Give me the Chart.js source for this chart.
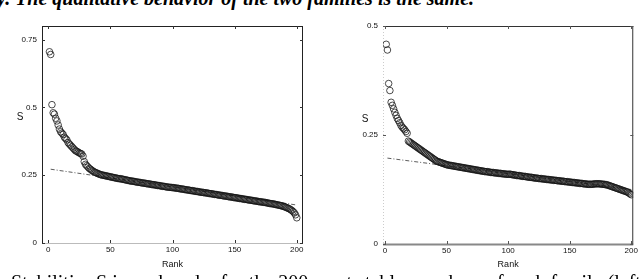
<!DOCTYPE html>
<html>
<head>
<meta charset="utf-8">
<script src="https://cdn.jsdelivr.net/npm/chart.js@4.4.0/dist/chart.umd.min.js"></script>
<style>
  html, body { margin: 0; padding: 0; background: #fff; }
  #page { position: relative; width: 640px; height: 279px; overflow: hidden; background: #fff; }
  .plot { position: absolute; top: 0; }
  .caption { position: absolute; white-space: nowrap; font-family: "Liberation Serif", serif; color: #000; }
  #topText { left: -3px; top: -13px; font-size: 20px; font-weight: bold; font-style: italic; }
  #bottomText { left: -30px; top: 271px; font-size: 20px; }
</style>
</head>
<body>
<div id="page">
  <div id="topText" class="caption">y. The qualitative behavior of the two families is the same.</div>
  <div class="plot" style="left:0px"><canvas id="chartLeft" width="320" height="279"></canvas></div>
  <div class="plot" style="left:320px"><canvas id="chartRight" width="320" height="279"></canvas></div>
  <div id="bottomText" class="caption">re 3: Stabilities S in rank order for the 200 most stable members of each family (left and right).</div>
</div>
<script>
// stability S by rank (1..200), left family
const leftS = [
  0.705, 0.695, 0.51, 0.48, 0.475, 0.46, 0.45, 0.435, 0.42, 0.41,
  0.405, 0.40, 0.39, 0.385, 0.38, 0.37, 0.365, 0.36, 0.355, 0.35,
  0.345, 0.34, 0.338, 0.335, 0.332, 0.33, 0.328, 0.32, 0.30, 0.29,
  0.285, 0.28, 0.275, 0.272, 0.268, 0.265, 0.262, 0.26, 0.258, 0.256,
  0.254, 0.252, 0.251, 0.25, 0.249, 0.248, 0.247, 0.246, 0.245, 0.244,
  0.243, 0.242, 0.241, 0.240, 0.239, 0.238, 0.237, 0.237, 0.236, 0.235,
  0.234, 0.233, 0.232, 0.231, 0.230, 0.229, 0.228, 0.228, 0.227, 0.226,
  0.225, 0.224, 0.224, 0.223, 0.222, 0.221, 0.221, 0.220, 0.219, 0.218,
  0.218, 0.217, 0.216, 0.215, 0.215, 0.214, 0.213, 0.212, 0.212, 0.211,
  0.210, 0.209, 0.209, 0.208, 0.207, 0.206, 0.206, 0.205, 0.205, 0.204,
  0.204, 0.203, 0.202, 0.202, 0.201, 0.200, 0.199, 0.199, 0.198, 0.197,
  0.196, 0.196, 0.195, 0.194, 0.193, 0.193, 0.192, 0.191, 0.190, 0.190,
  0.189, 0.188, 0.187, 0.187, 0.186, 0.185, 0.185, 0.184, 0.183, 0.182,
  0.182, 0.181, 0.180, 0.179, 0.179, 0.178, 0.177, 0.176, 0.176, 0.175,
  0.174, 0.173, 0.173, 0.172, 0.171, 0.170, 0.170, 0.169, 0.168, 0.167,
  0.167, 0.166, 0.165, 0.164, 0.164, 0.163, 0.162, 0.161, 0.161, 0.160,
  0.159, 0.158, 0.158, 0.157, 0.156, 0.155, 0.155, 0.154, 0.153, 0.152,
  0.152, 0.151, 0.150, 0.150, 0.149, 0.148, 0.147, 0.146, 0.145, 0.145,
  0.144, 0.143, 0.142, 0.141, 0.140, 0.139, 0.138, 0.137, 0.135, 0.134,
  0.132, 0.130, 0.128, 0.126, 0.123, 0.120, 0.116, 0.111, 0.104, 0.093
];

// stability S by rank (1..200), right family
const rightS = [
  0.458, 0.445, 0.368, 0.352, 0.325, 0.318, 0.31, 0.302, 0.295, 0.288,
  0.283, 0.278, 0.272, 0.268, 0.265, 0.262, 0.258, 0.254, 0.236, 0.234,
  0.232, 0.230, 0.228, 0.226, 0.224, 0.222, 0.220, 0.218, 0.216, 0.214,
  0.212, 0.210, 0.208, 0.206, 0.204, 0.202, 0.200, 0.198, 0.196, 0.194,
  0.192, 0.190, 0.189, 0.188, 0.187, 0.186, 0.185, 0.184, 0.183, 0.182,
  0.181, 0.181, 0.180, 0.180, 0.179, 0.179, 0.178, 0.178, 0.177, 0.177,
  0.176, 0.176, 0.175, 0.175, 0.174, 0.174, 0.173, 0.173, 0.172, 0.172,
  0.171, 0.171, 0.170, 0.170, 0.169, 0.169, 0.168, 0.168, 0.167, 0.167,
  0.166, 0.166, 0.166, 0.165, 0.165, 0.164, 0.164, 0.164, 0.163, 0.163,
  0.163, 0.162, 0.162, 0.162, 0.161, 0.161, 0.161, 0.160, 0.160, 0.160,
  0.160, 0.160, 0.159, 0.159, 0.158, 0.158, 0.157, 0.157, 0.157, 0.156,
  0.156, 0.155, 0.155, 0.155, 0.154, 0.154, 0.153, 0.153, 0.153, 0.152,
  0.152, 0.151, 0.151, 0.151, 0.150, 0.150, 0.150, 0.149, 0.149, 0.149,
  0.148, 0.148, 0.148, 0.147, 0.147, 0.147, 0.146, 0.146, 0.146, 0.145,
  0.145, 0.145, 0.144, 0.144, 0.144, 0.143, 0.143, 0.143, 0.142, 0.142,
  0.142, 0.141, 0.141, 0.141, 0.140, 0.140, 0.140, 0.139, 0.139, 0.139,
  0.138, 0.138, 0.138, 0.137, 0.137, 0.137, 0.137, 0.137, 0.137, 0.138,
  0.138, 0.138, 0.138, 0.138, 0.138, 0.137, 0.137, 0.137, 0.136, 0.136,
  0.135, 0.134, 0.133, 0.132, 0.131, 0.130, 0.129, 0.128, 0.127, 0.126,
  0.125, 0.124, 0.123, 0.122, 0.121, 0.120, 0.119, 0.117, 0.115, 0.113
];

// dash-dot reference lines (end points)
const leftFit = [{ x: 2, y: 0.272 }, { x: 200, y: 0.14 }];
const rightFit = [{ x: 2, y: 0.197 }, { x: 200, y: 0.125 }];

const rankTicks = [0, 50, 100, 150, 200];
const leftYTicks = [0, 0.25, 0.5, 0.75];
const rightYTicks = [0, 0.25, 0.5];

const tickFont = { family: 'Liberation Sans', size: 8 };

function toPoints(arr) {
  return arr.map((v, i) => ({ x: i + 1, y: v }));
}

// frame, inward ticks and axis titles, MATLAB style
const framePlugin = {
  id: 'frame',
  afterDraw(chart, args, opts) {
    const c = chart.ctx;
    const a = chart.chartArea;
    const xs = chart.scales.x;
    const ys = chart.scales.y;
    c.save();
    const side = (col, w, x1, y1, x2, y2, dash) => {
      c.strokeStyle = col;
      c.lineWidth = w;
      c.setLineDash(dash || []);
      c.beginPath();
      c.moveTo(x1, y1);
      c.lineTo(x2, y2);
      c.stroke();
    };
    side(opts.top[0], opts.top[1], a.left, a.top + 0.5, a.right, a.top + 0.5);
    side(opts.bottom[0], opts.bottom[1], a.left, a.bottom + 0.5, a.right, a.bottom + 0.5);
    side(opts.left[0], opts.left[1], a.left + 0.5, a.top, a.left + 0.5, a.bottom, opts.left[2]);
    side(opts.right[0], opts.right[1], a.right - 0.5, a.top, a.right - 0.5, a.bottom);

    c.setLineDash([]);
    c.strokeStyle = opts.tickColor;
    c.lineWidth = 1;
    const tl = 3;
    opts.xTicks.forEach(v => {
      const px = Math.round(xs.getPixelForValue(v)) + 0.5;
      c.beginPath();
      c.moveTo(px, a.bottom); c.lineTo(px, a.bottom - tl);
      c.moveTo(px, a.top); c.lineTo(px, a.top + tl);
      c.stroke();
    });
    opts.yTicks.forEach(v => {
      const py = Math.round(ys.getPixelForValue(v)) + 0.5;
      c.beginPath();
      c.moveTo(a.left, py); c.lineTo(a.left + tl, py);
      c.moveTo(a.right, py); c.lineTo(a.right - tl, py);
      c.stroke();
    });

    c.fillStyle = '#111';
    c.font = '9px "Liberation Sans"';
    c.textAlign = 'center';
    c.textBaseline = 'middle';
    c.fillText('Rank', (a.left + a.right) / 2, opts.rankY);
    c.font = '10px "Liberation Sans"';
    c.fillText('S', opts.sX, opts.sY);
    c.restore();
  }
};

function makeChart(id, values, fit, xMin, xMax, yMax, yTicks, area, frame) {
  return new Chart(document.getElementById(id), {
    type: 'scatter',
    data: {
      datasets: [{
        data: toPoints(values),
        pointStyle: 'circle',
        pointRadius: 3.3,
        borderWidth: 0.9,
        borderColor: 'rgba(20,20,20,0.85)',
        backgroundColor: 'rgba(0,0,0,0)'
      }, {
        type: 'line',
        data: fit,
        borderColor: '#333',
        borderWidth: 0.8,
        borderDash: [4, 2, 1, 2],
        pointRadius: 0,
        fill: false
      }]
    },
    options: {
      responsive: false,
      animation: false,
      layout: { padding: { left: 0, right: area.right, top: area.top, bottom: 0 } },
      plugins: {
        legend: { display: false },
        tooltip: { enabled: false },
        frame: frame
      },
      scales: {
        x: {
          type: 'linear',
          min: xMin,
          max: xMax,
          afterBuildTicks: s => { s.ticks = rankTicks.map(v => ({ value: v })); },
          afterFit: s => { s.height = area.xh; },
          grid: { display: false, drawTicks: false },
          border: { display: false },
          ticks: { font: tickFont, color: '#111', padding: 2, maxRotation: 0, callback: v => String(v) }
        },
        y: {
          type: 'linear',
          min: 0,
          max: yMax,
          afterBuildTicks: s => { s.ticks = yTicks.map(v => ({ value: v })); },
          afterFit: s => { s.width = area.yw; },
          grid: { display: false, drawTicks: false },
          border: { display: false },
          ticks: { font: tickFont, color: '#111', padding: 5, callback: v => String(v) }
        }
      }
    },
    plugins: [framePlugin]
  });
}

makeChart('chartLeft', leftS, leftFit, -5, 205, 0.8, leftYTicks,
  { right: 17, top: 26, xh: 36, yw: 42 },
  {
    top: ['#222', 1], bottom: ['#bbb', 1], left: ['#222', 1], right: ['#222', 1],
    tickColor: '#333', xTicks: rankTicks, yTicks: leftYTicks,
    rankY: 265, sX: 20, sY: 117
  });

makeChart('chartRight', rightS, rightFit, -1.6, 201.6, 0.5, rightYTicks,
  { right: 4, top: 26, xh: 35, yw: 63 },
  {
    top: ['#333', 1], bottom: ['#888', 2], left: ['#ccc', 1, [1, 2]], right: ['#333', 1],
    tickColor: '#555', xTicks: rankTicks, yTicks: rightYTicks,
    rankY: 265, sX: 45, sY: 119
  });
</script>
</body>
</html>
